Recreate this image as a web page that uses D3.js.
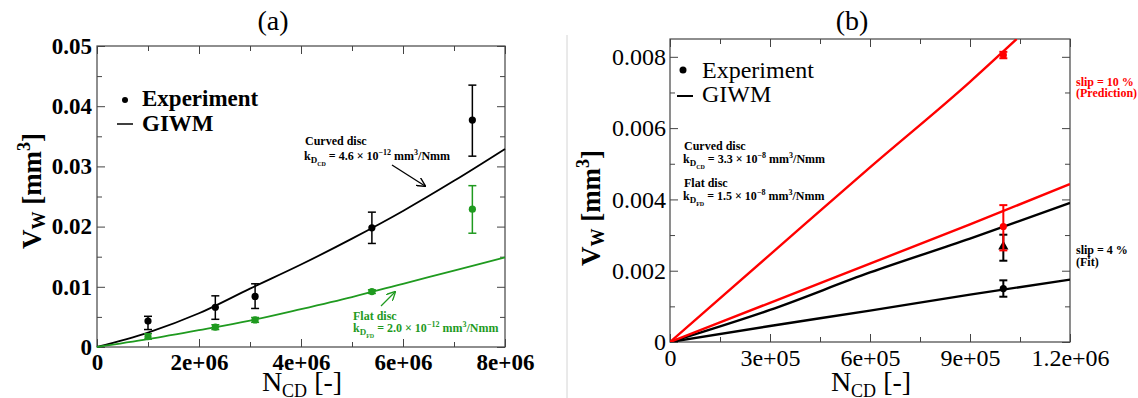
<!DOCTYPE html>
<html>
<head>
<meta charset="utf-8">
<script src="https://cdn.jsdelivr.net/npm/d3@7"></script>
<style>
body { margin: 0; background: #fff; }
svg { display: block; font-family: "Liberation Serif", "DejaVu Serif", serif; }
</style>
</head>
<body>
<svg id="chart" width="1138" height="398"></svg>
<script>
// ---- panel (a) data ----
var aXTicks = [0, 2e6, 4e6, 6e6, 8e6];
var aXTickLabels = ['0', '2e+06', '4e+06', '6e+06', '8e+06'];
var aXMinor = [1e6, 3e6, 5e6, 7e6];
var aYTicks = [0, 0.01, 0.02, 0.03, 0.04, 0.05];
var aYTickLabels = ['0', '0.01', '0.02', '0.03', '0.04', '0.05'];
var aYMinor = [0.005, 0.015, 0.025, 0.035, 0.045];

var aGiwmX = [0, 1e6, 2e6, 3e6, 4e6, 5e6, 6e6, 7e6, 8e6];
var aCurvedGiwm = [0, 0.0024, 0.0056, 0.0097, 0.0137, 0.0180, 0.0226, 0.0276, 0.0329];
var aFlatGiwm = [0, 0.0013, 0.0028, 0.0044, 0.0063, 0.0083, 0.0105, 0.0127, 0.0149];

var aExpX = [1.0e6, 2.32e6, 3.1e6, 5.39e6, 7.36e6];
var aCurvedExp = [0.0043, 0.0066, 0.0084, 0.0198, 0.0377];
var aCurvedLo = [0.0029, 0.0046, 0.0064, 0.0172, 0.0317];
var aCurvedHi = [0.0051, 0.0085, 0.0105, 0.0224, 0.0435];
var aFlatExp = [0.0017, 0.0033, 0.0045, 0.0092, 0.0229];
var aFlatLo = [0.0013, 0.0029, 0.0041, 0.0089, 0.0189];
var aFlatHi = [0.0022, 0.0037, 0.0049, 0.0095, 0.0268];

// ---- panel (b) data ----
var bXTicks = [0, 3e5, 6e5, 9e5, 1.2e6];
var bXTickLabels = ['0', '3e+05', '6e+05', '9e+05', '1.2e+06'];
var bXMinor = [1.5e5, 4.5e5, 7.5e5, 1.05e6];
var bYTicks = [0, 0.002, 0.004, 0.006, 0.008];
var bYTickLabels = ['0', '0.002', '0.004', '0.006', '0.008'];
var bYMinor = [0.001, 0.003, 0.005, 0.007];

var bLineX = [0, 3e5, 6e5, 9e5, 1.2e6];
var bCurvedSlip4 = [0, 0.0009, 0.00195, 0.0029, 0.0039];
var bFlatSlip4 = [0, 0.00045, 0.00088, 0.00133, 0.00175];
var bFlatSlip10 = [0, 0.0011, 0.0022, 0.0033, 0.00443];
var bSteepX = [0, 3e5, 6e5, 9e5, 1.04e6];
var bCurvedSlip10 = [0, 0.00245, 0.0049, 0.0073, 0.0085];

var bExpX = [1.0e6, 1.0e6];
var bBlackExp = [0.00268, 0.0015];
var bBlackLo = [0.00228, 0.00127];
var bBlackHi = [0.00301, 0.00173];
var bRedExp = [0.00805, 0.00324];
var bRedLo = [0.00796, 0.00257];
var bRedHi = [0.00814, 0.00384];

var config = {
  green: '#1f9a1f',
  red: '#ff0000',
  axisColor: '#444',
  majorTick: 8,
  minorTick: 5,
  capWidth: 8,
}

var svg = d3.select('#chart');

svg.append('line')
  .attr('x1', 567).attr('x2', 567).attr('y1', 35).attr('y2', 398)
  .attr('stroke', '#d4d4d4').attr('stroke-width', 1);

var defs = svg.append('defs');
function arrowMarker(id, color) {
  defs.append('marker')
    .attr('id', id)
    .attr('viewBox', '0 0 10 10')
    .attr('refX', 9).attr('refY', 5)
    .attr('markerWidth', 9).attr('markerHeight', 9)
    .attr('markerUnits', 'userSpaceOnUse')
    .attr('orient', 'auto')
    .append('path')
    .attr('d', 'M0,0 L10,5 L0,10')
    .attr('fill', 'none')
    .attr('stroke', color)
    .attr('stroke-width', 1.5);
}
arrowMarker('arrow-black', '#000');
arrowMarker('arrow-green', config.green);

// text with sub/superscripts: parts = [text, baseline shift, font size]
// relative dy keeps it one text chunk, so text-anchor works on the whole string
function richText(parent, x, y, parts, opts) {
  var t = parent.append('text')
    .attr('x', x).attr('y', y)
    .attr('fill', opts.color || '#000')
    .attr('font-weight', opts.weight || 'normal')
    .attr('text-anchor', opts.anchor || 'start');
  var prev = 0;
  parts.forEach(function(p) {
    t.append('tspan')
      .attr('dy', p[1] - prev)
      .attr('font-size', p[2])
      .text(p[0]);
    prev = p[1];
  });
  return t;
}

function drawAxes(p) {
  var g = svg.append('g');
  var xAxis = d3.axisBottom(p.x).tickValues(p.xTicks)
    .tickFormat(function(d, i) { return p.xLabels[i]; })
    .tickSize(-config.majorTick).tickPadding(p.xPad);
  var yAxis = d3.axisLeft(p.y).tickValues(p.yTicks)
    .tickFormat(function(d, i) { return p.yLabels[i]; })
    .tickSize(-config.majorTick).tickPadding(p.yPad);

  var parts = [
    g.append('g').attr('transform', 'translate(0,' + p.y.range()[0] + ')').call(xAxis),
    g.append('g').attr('transform', 'translate(0,' + p.y.range()[0] + ')')
      .call(d3.axisBottom(p.x).tickValues(p.xMinor).tickSize(-config.minorTick).tickFormat('')),
    g.append('g').attr('transform', 'translate(0,' + p.y.range()[1] + ')')
      .call(d3.axisTop(p.x).tickValues(p.xTicks).tickSize(-config.majorTick).tickFormat('')),
    g.append('g').attr('transform', 'translate(0,' + p.y.range()[1] + ')')
      .call(d3.axisTop(p.x).tickValues(p.xMinor).tickSize(-config.minorTick).tickFormat('')),
    g.append('g').attr('transform', 'translate(' + p.x.range()[0] + ',0)').call(yAxis),
    g.append('g').attr('transform', 'translate(' + p.x.range()[0] + ',0)')
      .call(d3.axisLeft(p.y).tickValues(p.yMinor).tickSize(-config.minorTick).tickFormat('')),
    g.append('g').attr('transform', 'translate(' + p.x.range()[1] + ',0)')
      .call(d3.axisRight(p.y).tickValues(p.yTicks).tickSize(-config.majorTick).tickFormat('')),
    g.append('g').attr('transform', 'translate(' + p.x.range()[1] + ',0)')
      .call(d3.axisRight(p.y).tickValues(p.yMinor).tickSize(-config.minorTick).tickFormat(''))
  ];
  parts.forEach(function(a) {
    a.select('.domain').remove();
    a.selectAll('.tick line').attr('stroke', config.axisColor);
    a.attr('font-family', null).attr('font-size', null);
    a.selectAll('text')
      .attr('fill', '#000')
      .attr('font-size', p.tickFont)
      .attr('font-weight', p.tickWeight);
  });
  g.append('rect')
    .attr('x', p.x.range()[0]).attr('y', p.y.range()[1])
    .attr('width', p.x.range()[1] - p.x.range()[0])
    .attr('height', p.y.range()[0] - p.y.range()[1])
    .attr('fill', 'none').attr('stroke', config.axisColor).attr('stroke-width', 1.2);
  return g;
}

function drawLine(g, xs, ys, color, width, x, y) {
  var line = d3.line()
    .x(function(d) { return x(d[0]); })
    .y(function(d) { return y(d[1]); })
    .curve(d3.curveMonotoneX);
  g.append('path')
    .attr('d', line(xs.map(function(v, i) { return [v, ys[i]]; })))
    .attr('fill', 'none')
    .attr('stroke', color)
    .attr('stroke-width', width);
}

function drawPoints(g, xs, ys, lo, hi, color, x, y, shape, width) {
  for (var i = 0; i < xs.length; i += 1) {
    var cx = x(xs[i]);
    g.append('line').attr('x1', cx).attr('x2', cx).attr('y1', y(lo[i])).attr('y2', y(hi[i]))
      .attr('stroke', color).attr('stroke-width', width);
    [lo[i], hi[i]].forEach(function(v) {
      g.append('line').attr('x1', cx - config.capWidth / 2).attr('x2', cx + config.capWidth / 2)
        .attr('y1', y(v)).attr('y2', y(v))
        .attr('stroke', color).attr('stroke-width', width);
    });
    var s = shape ? shape[i] : 'circle';
    if (s === 'triangle') {
      g.append('path')
        .attr('d', d3.symbol(d3.symbolTriangle).size(45)())
        .attr('transform', 'translate(' + cx + ',' + y(ys[i]) + ')')
        .attr('fill', color);
    } else {
      g.append('circle').attr('cx', cx).attr('cy', y(ys[i])).attr('r', 3.6).attr('fill', color);
    }
  }
}

// ================= panel (a) =================
var ax = d3.scaleLinear().domain([0, 8e6]).range([97, 505]);
var ay = d3.scaleLinear().domain([0, 0.05]).range([347, 46]);
var ga = drawAxes({ x: ax, y: ay, xTicks: aXTicks, xLabels: aXTickLabels, xMinor: aXMinor,
  yTicks: aYTicks, yLabels: aYTickLabels, yMinor: aYMinor, xPad: 7, yPad: 5,
  tickFont: 23, tickWeight: 'bold' });

drawLine(ga, aGiwmX, aCurvedGiwm, '#000', 1.8, ax, ay);
drawLine(ga, aGiwmX, aFlatGiwm, config.green, 1.8, ax, ay);
drawPoints(ga, aExpX, aCurvedExp, aCurvedLo, aCurvedHi, '#000', ax, ay, null, 1.5);
drawPoints(ga, aExpX, aFlatExp, aFlatLo, aFlatHi, config.green, ax, ay, null, 1.5);

svg.append('text').attr('x', 273).attr('y', 30).attr('text-anchor', 'middle')
  .attr('font-size', 28).text('(a)');

// legend (a)
svg.append('circle').attr('cx', 125).attr('cy', 100).attr('r', 3).attr('fill', '#000');
svg.append('text').attr('x', 142).attr('y', 106).attr('font-size', 23).attr('font-weight', 'bold').text('Experiment');
svg.append('line').attr('x1', 117).attr('x2', 133).attr('y1', 124).attr('y2', 124).attr('stroke', '#000').attr('stroke-width', 1.5);
svg.append('text').attr('x', 142).attr('y', 131).attr('font-size', 23).attr('font-weight', 'bold').text('GIWM');

// annotations (a)
richText(svg, 305, 145, [['Curved disc', 0, 12]], { weight: 'bold' });
richText(svg, 304, 160, [['k', 0, 12], ['D', 3, 9], ['CD', 6, 6], [' = 4.6 \u00d7 10', 0, 12], ['\u221212', -5, 8],
  [' mm', 0, 12], ['3', -5, 8], ['/Nmm', 0, 12]], { weight: 'bold' });
svg.append('line').attr('x1', 392).attr('y1', 165).attr('x2', 425).attr('y2', 186)
  .attr('stroke', '#000').attr('stroke-width', 1.3).attr('marker-end', 'url(#arrow-black)');

richText(svg, 353, 320, [['Flat disc', 0, 12]], { weight: 'bold', color: config.green });
richText(svg, 353, 332, [['k', 0, 12], ['D', 3, 9], ['FD', 6, 6], [' = 2.0 \u00d7 10', 0, 12], ['\u221212', -5, 8],
  [' mm', 0, 12], ['3', -5, 8], ['/Nmm', 0, 12]], { weight: 'bold', color: config.green });
svg.append('line').attr('x1', 381).attr('y1', 306).attr('x2', 395).attr('y2', 292)
  .attr('stroke', config.green).attr('stroke-width', 1.3).attr('marker-end', 'url(#arrow-green)');

// axis titles (a)
richText(svg, 302, 391, [['N', 0, 28], ['CD', 6, 18], [' [-]', 0, 28]], { anchor: 'middle' });
var ya = svg.append('g').attr('transform', 'translate(41,191) rotate(-90)');
richText(ya, 0, 0, [['V', 0, 27], ['W', 4, 18], [' [mm', 0, 27], ['3', -11, 18], [']', 0, 27]],
  { anchor: 'middle', weight: 'bold' });

// ================= panel (b) =================
var bx = d3.scaleLinear().domain([0, 1.2e6]).range([670, 1070]);
var by = d3.scaleLinear().domain([0, 0.0085]).range([342, 39]);
var gb = drawAxes({ x: bx, y: by, xTicks: bXTicks, xLabels: bXTickLabels, xMinor: bXMinor,
  yTicks: bYTicks, yLabels: bYTickLabels, yMinor: bYMinor, xPad: 7, yPad: 4,
  tickFont: 24, tickWeight: 'normal' });

defs.append('clipPath').attr('id', 'clip-b').append('rect')
  .attr('x', 670).attr('y', 39).attr('width', 400).attr('height', 303);
var gbLines = gb.append('g').attr('clip-path', 'url(#clip-b)');

drawLine(gbLines, bLineX, bFlatSlip4, '#000', 2.4, bx, by);
drawLine(gbLines, bLineX, bCurvedSlip4, '#000', 2.4, bx, by);
drawLine(gbLines, bLineX, bFlatSlip10, config.red, 2.4, bx, by);
drawLine(gbLines, bSteepX, bCurvedSlip10, config.red, 2.4, bx, by);
drawPoints(gb, bExpX, bBlackExp, bBlackLo, bBlackHi, '#000', bx, by, ['triangle', 'circle'], 2);
drawPoints(gb, bExpX, bRedExp, bRedLo, bRedHi, config.red, bx, by, null, 2);

svg.append('text').attr('x', 852).attr('y', 30).attr('text-anchor', 'middle')
  .attr('font-size', 28).text('(b)');

// legend (b)
svg.append('circle').attr('cx', 683).attr('cy', 70).attr('r', 3.5).attr('fill', '#000');
svg.append('text').attr('x', 702).attr('y', 78).attr('font-size', 24).text('Experiment');
svg.append('line').attr('x1', 677).attr('x2', 693).attr('y1', 96).attr('y2', 96).attr('stroke', '#000').attr('stroke-width', 2);
svg.append('text').attr('x', 702).attr('y', 102).attr('font-size', 24).text('GIWM');

// annotations (b)
richText(svg, 684, 150, [['Curved disc', 0, 12]], { weight: 'bold' });
richText(svg, 683, 163, [['k', 0, 12], ['D', 3, 9], ['CD', 6, 6], [' = 3.3 \u00d7 10', 0, 12], ['\u22128', -5, 8],
  [' mm', 0, 12], ['3', -5, 8], ['/Nmm', 0, 12]], { weight: 'bold' });
richText(svg, 684, 187, [['Flat disc', 0, 12]], { weight: 'bold' });
richText(svg, 683, 200, [['k', 0, 12], ['D', 3, 9], ['FD', 6, 6], [' = 1.5 \u00d7 10', 0, 12], ['\u22128', -5, 8],
  [' mm', 0, 12], ['3', -5, 8], ['/Nmm', 0, 12]], { weight: 'bold' });

richText(svg, 1076, 86, [['slip = 10 %', 0, 12]], { weight: 'bold', color: config.red });
richText(svg, 1076, 97, [['(Prediction)', 0, 12]], { weight: 'bold', color: config.red });
richText(svg, 1076, 254, [['slip = 4 %', 0, 12]], { weight: 'bold' });
richText(svg, 1076, 266, [['(Fit)', 0, 12]], { weight: 'bold' });

// axis titles (b)
richText(svg, 871, 391, [['N', 0, 28], ['CD', 6, 18], [' [-]', 0, 28]], { anchor: 'middle' });
var yb = svg.append('g').attr('transform', 'translate(600,208) rotate(-90)');
richText(yb, 0, 0, [['V', 0, 27], ['W', 4, 18], [' [mm', 0, 27], ['3', -11, 18], [']', 0, 27]],
  { anchor: 'middle', weight: 'bold' });
</script>
</body>
</html>
